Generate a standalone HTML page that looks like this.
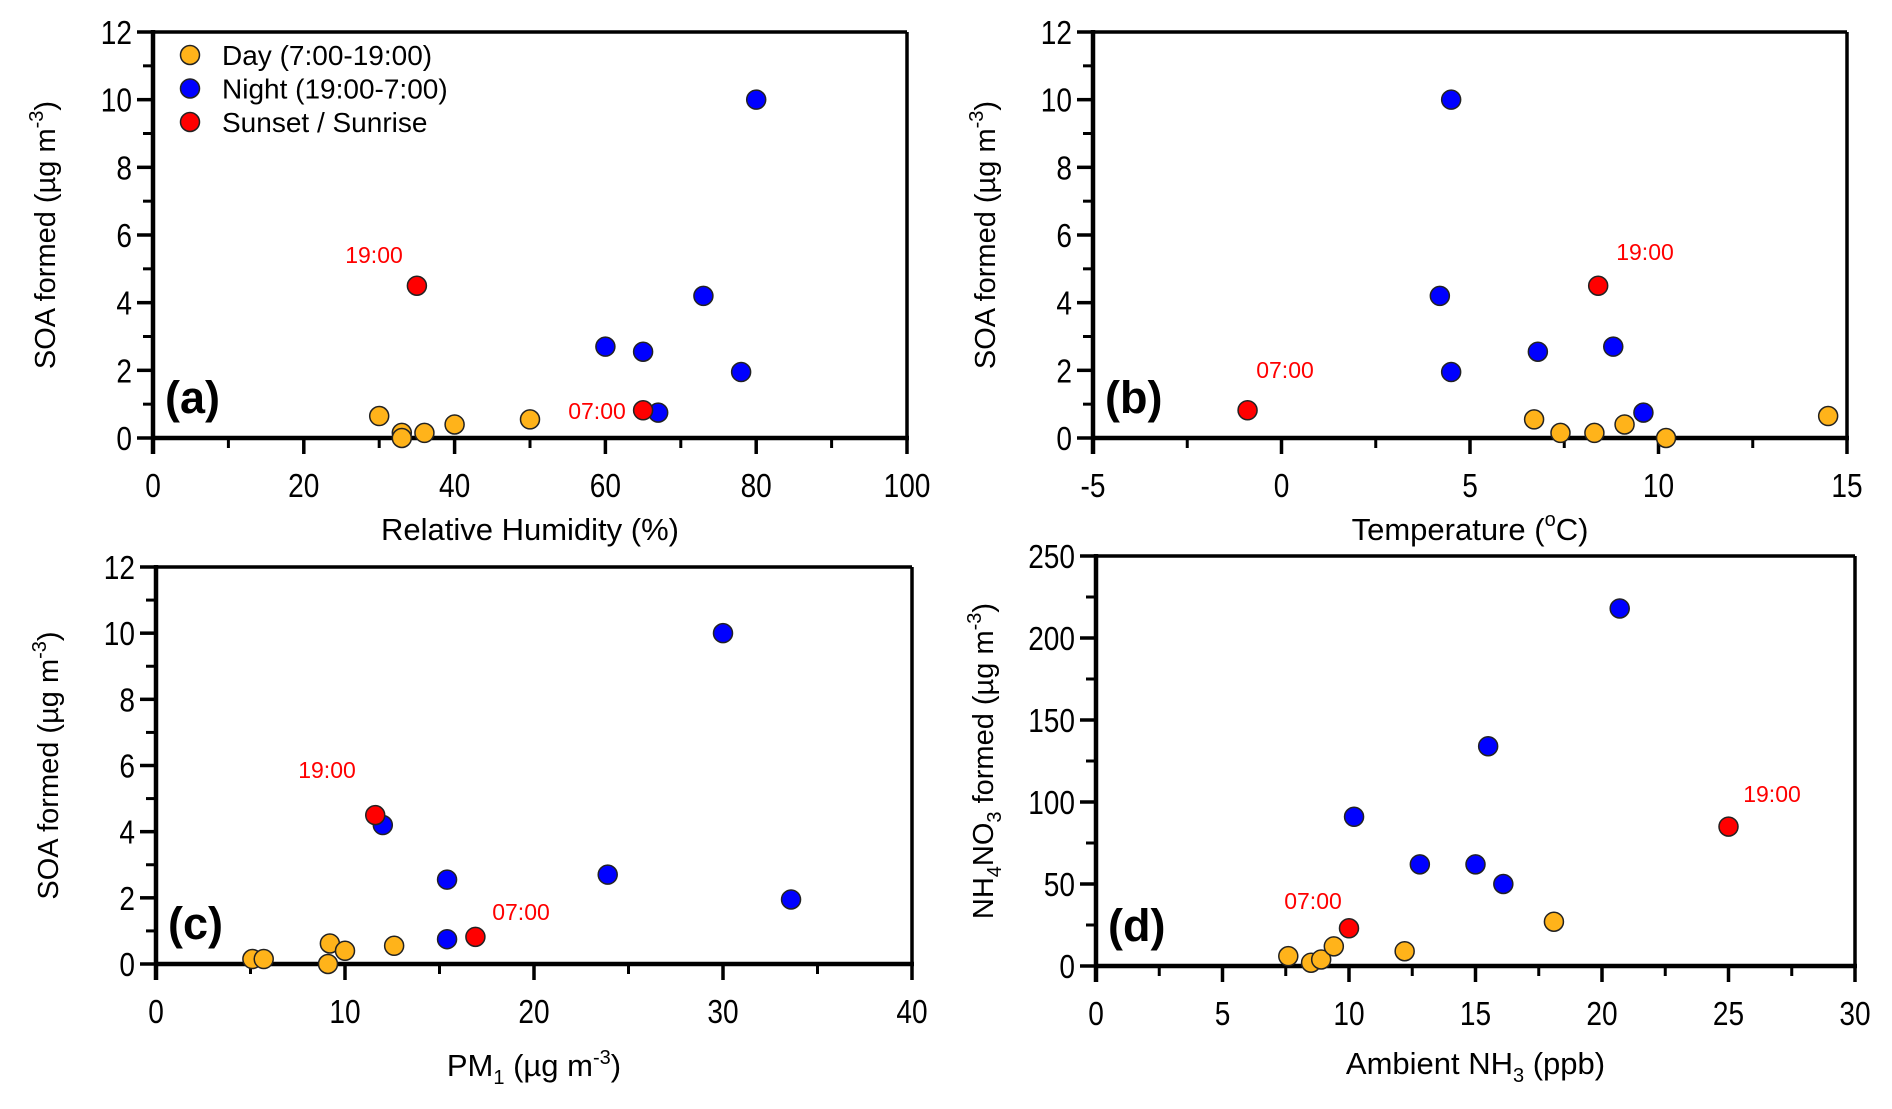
<!DOCTYPE html>
<html><head><meta charset="utf-8"><style>
html,body{margin:0;padding:0;background:#fff}
svg{display:block;font-family:"Liberation Sans",sans-serif}
</style></head><body>
<svg id="chart" width="1892" height="1109" viewBox="0 0 1892 1109" xmlns="http://www.w3.org/2000/svg"></svg>
<script>
// Panel (a) data
const aDayX=[30,33,33,36,40,50]; const aDayY=[0.65,0.15,0,0.15,0.4,0.55];
const aNightX=[60,65,67,73,78,80]; const aNightY=[2.7,2.55,0.75,4.2,1.95,10];
const aRedX=[35,65]; const aRedY=[4.5,0.82];
// Panel (b) data
const bDayX=[6.7,7.4,8.3,9.1,10.2,14.5]; const bDayY=[0.55,0.15,0.15,0.4,0,0.65];
const bNightX=[4.5,4.2,4.5,6.8,8.8,9.6]; const bNightY=[10,4.2,1.95,2.55,2.7,0.75];
const bRedX=[-0.9,8.4]; const bRedY=[0.82,4.5];
// Panel (c) data
const cDayX=[5.1,5.7,9.1,9.2,10,12.6]; const cDayY=[0.15,0.15,0,0.62,0.4,0.55];
const cNightX=[30,12,15.4,15.4,23.9,33.6]; const cNightY=[10,4.2,2.55,0.75,2.7,1.95];
const cRedX=[11.6,16.9]; const cRedY=[4.5,0.82];
// Panel (d) data
const dDayX=[7.6,8.5,8.9,9.4,12.2,18.1]; const dDayY=[6,2,4,12,9,27];
const dNightX=[10.2,12.8,15,15.5,16.1,20.7]; const dNightY=[91,62,62,134,50,218];
const dRedX=[10,25]; const dRedY=[23,85];
// ticks
const socTicks=[0,2,4,6,8,10,12];
const rhTicks=[0,20,40,60,80,100];
const tTicks=[-5,0,5,10,15];
const pmTicks=[0,10,20,30,40];
const nh3Ticks=[0,5,10,15,20,25,30];
const nh4Ticks=[0,50,100,150,200,250];

const NS="http://www.w3.org/2000/svg";
const svg=document.getElementById('chart');
function el(tag,attrs,parent,text){const e=document.createElementNS(NS,tag);for(const k in attrs)e.setAttribute(k,attrs[k]);if(text!==undefined)e.textContent=text;(parent||svg).appendChild(e);return e;}

function panel(p){
  const g=el('g',{});
  
  
  const sx=v=>p.x0+(v-p.xmin)/(p.xmax-p.xmin)*(p.x1-p.x0);
  const sy=v=>p.y0-(v-p.ymin)/(p.ymax-p.ymin)*(p.y0-p.y1);
  el('line',{x1:p.x0,y1:p.y1,x2:p.x1,y2:p.y1,stroke:'#000','stroke-width':3.5},g);
  el('line',{x1:p.x1,y1:p.y1,x2:p.x1,y2:p.y0,stroke:'#000','stroke-width':3.5},g);
  const xt=p.xt, xs=xt[1]-xt[0];
  for(let i=0;i<xt.length;i++){
    const x=sx(xt[i]);
    el('line',{x1:x,y1:p.y0,x2:x,y2:p.y0+16,stroke:'#000','stroke-width':3.5},g);
    const t=el('text',{x:x,y:p.y0+59,'font-size':33,'text-anchor':'middle',transform:`translate(${x},0) scale(0.85,1) translate(${-x},0)`},g,String(xt[i]));
     
    if(i<xt.length-1){const xm=sx(xt[i]+xs/2);el('line',{x1:xm,y1:p.y0,x2:xm,y2:p.y0+10,stroke:'#000','stroke-width':3},g);}
  }
  const yt=p.yt, ys=yt[1]-yt[0];
  for(let i=0;i<yt.length;i++){
    const y=sy(yt[i]);
    el('line',{x1:p.x0-16,y1:y,x2:p.x0,y2:y,stroke:'#000','stroke-width':3.5},g);
    const tx=p.x0-21;
    const t=el('text',{x:tx,y:y+12,'font-size':33,'text-anchor':'end',transform:`translate(${tx},0) scale(0.85,1) translate(${-tx},0)`},g,String(yt[i]));
     
    if(i<yt.length-1){const ym=sy(yt[i]+ys/2);el('line',{x1:p.x0-10,y1:ym,x2:p.x0,y2:ym,stroke:'#000','stroke-width':3},g);}
  }
  el('line',{x1:p.x0,y1:p.y0,x2:p.x1+2,y2:p.y0,stroke:'#000','stroke-width':4.5},g);
  el('line',{x1:p.x0,y1:p.y1-2,x2:p.x0,y2:p.y0+16,stroke:'#000','stroke-width':4.5},g);
  const xtEl=el('text',{x:(p.x0+p.x1)/2,y:p.y0+p.xto,'font-size':31,'text-anchor':'middle'},g);
  xtEl.innerHTML=p.xtitle;
   
  const yc=(p.y0+p.y1)/2;
  const ytEl=el('text',{x:p.ytx,y:yc,'font-size':29,'text-anchor':'middle',transform:`rotate(-90 ${p.ytx} ${yc})`},g);
  ytEl.innerHTML=p.ytitle;
   
  const lt=el('text',{x:p.x0+12,y:p.y0-25,'font-size':45,'font-weight':'bold'},g,'('+p.id+')');
   
  const series=[[p.dx,p.dy,'#FFB31A','day'],[p.nx,p.ny,'#0000FF','night'],[p.rx,p.ry,'#FF0000','sunset-sunrise']];
  for(const [xs2,ys2,c,n] of series){
    for(let i=0;i<xs2.length;i++){
      const cc=el('circle',{cx:sx(xs2[i]),cy:sy(ys2[i]),r:9.5,fill:c,stroke:'#222','stroke-width':1.5},g);
       
    }
  }
  for(const a of p.ann){
    const t=el('text',{x:a[0],y:a[1],'font-size':23,fill:'#FF0000','text-anchor':'middle'},g,a[2]);
     
  }
  return g;
}
const soa='SOA formed (µg m<tspan dy="-12" font-size="20">-3</tspan><tspan dy="12">)</tspan>';
panel({id:'a',x0:153,x1:907,y0:438,y1:32,xmin:0,xmax:100,ymin:0,ymax:12,xt:rhTicks,yt:socTicks,xto:102,
  xtitle:'Relative Humidity (%)',ytitle:soa,ytx:55,dx:aDayX,dy:aDayY,nx:aNightX,ny:aNightY,rx:aRedX,ry:aRedY,
  ann:[[374,263,'19:00'],[597,419,'07:00']]});
panel({id:'b',x0:1093,x1:1847,y0:438,y1:32,xmin:-5,xmax:15,ymin:0,ymax:12,xt:tTicks,yt:socTicks,xto:102,
  xtitle:'Temperature (<tspan dy="-14" font-size="20">o</tspan><tspan dy="14">C)</tspan>',ytitle:soa,ytx:995,dx:bDayX,dy:bDayY,nx:bNightX,ny:bNightY,rx:bRedX,ry:bRedY,
  ann:[[1645,260,'19:00'],[1285,378,'07:00']]});
panel({id:'c',x0:156,x1:912,y0:964,y1:567,xmin:0,xmax:40,ymin:0,ymax:12,xt:pmTicks,yt:socTicks,xto:112,
  xtitle:'PM<tspan dy="8" font-size="20">1</tspan><tspan dy="-8"> (µg m</tspan><tspan dy="-12" font-size="20">-3</tspan><tspan dy="12">)</tspan>',ytitle:soa,ytx:58,dx:cDayX,dy:cDayY,nx:cNightX,ny:cNightY,rx:cRedX,ry:cRedY,
  ann:[[327,778,'19:00'],[521,920,'07:00']]});
panel({id:'d',x0:1096,x1:1855,y0:966,y1:556,xmin:0,xmax:30,ymin:0,ymax:250,xt:nh3Ticks,yt:nh4Ticks,xto:108,
  xtitle:'Ambient NH<tspan dy="8" font-size="20">3</tspan><tspan dy="-8"> (ppb)</tspan>',
  ytitle:'NH<tspan dy="8" font-size="20">4</tspan><tspan dy="-8">NO</tspan><tspan dy="8" font-size="20">3</tspan><tspan dy="-8"> formed (µg m</tspan><tspan dy="-12" font-size="20">-3</tspan><tspan dy="12">)</tspan>',
  ytx:993,dx:dDayX,dy:dDayY,nx:dNightX,ny:dNightY,rx:dRedX,ry:dRedY,
  ann:[[1772,802,'19:00'],[1313,909,'07:00']]});
const leg=el('g',{});


const legItems=[['Day (7:00-19:00)','#FFB31A'],['Night (19:00-7:00)','#0000FF'],['Sunset / Sunrise','#FF0000']];
legItems.forEach((it,i)=>{
  const y=55+i*33.5;
  const c=el('circle',{cx:190,cy:y,r:9.5,fill:it[1],stroke:'#222','stroke-width':1.5},leg);
   
  const t=el('text',{x:222,y:y+10,'font-size':28},leg,it[0]);
   
});
</script>
</body></html>
